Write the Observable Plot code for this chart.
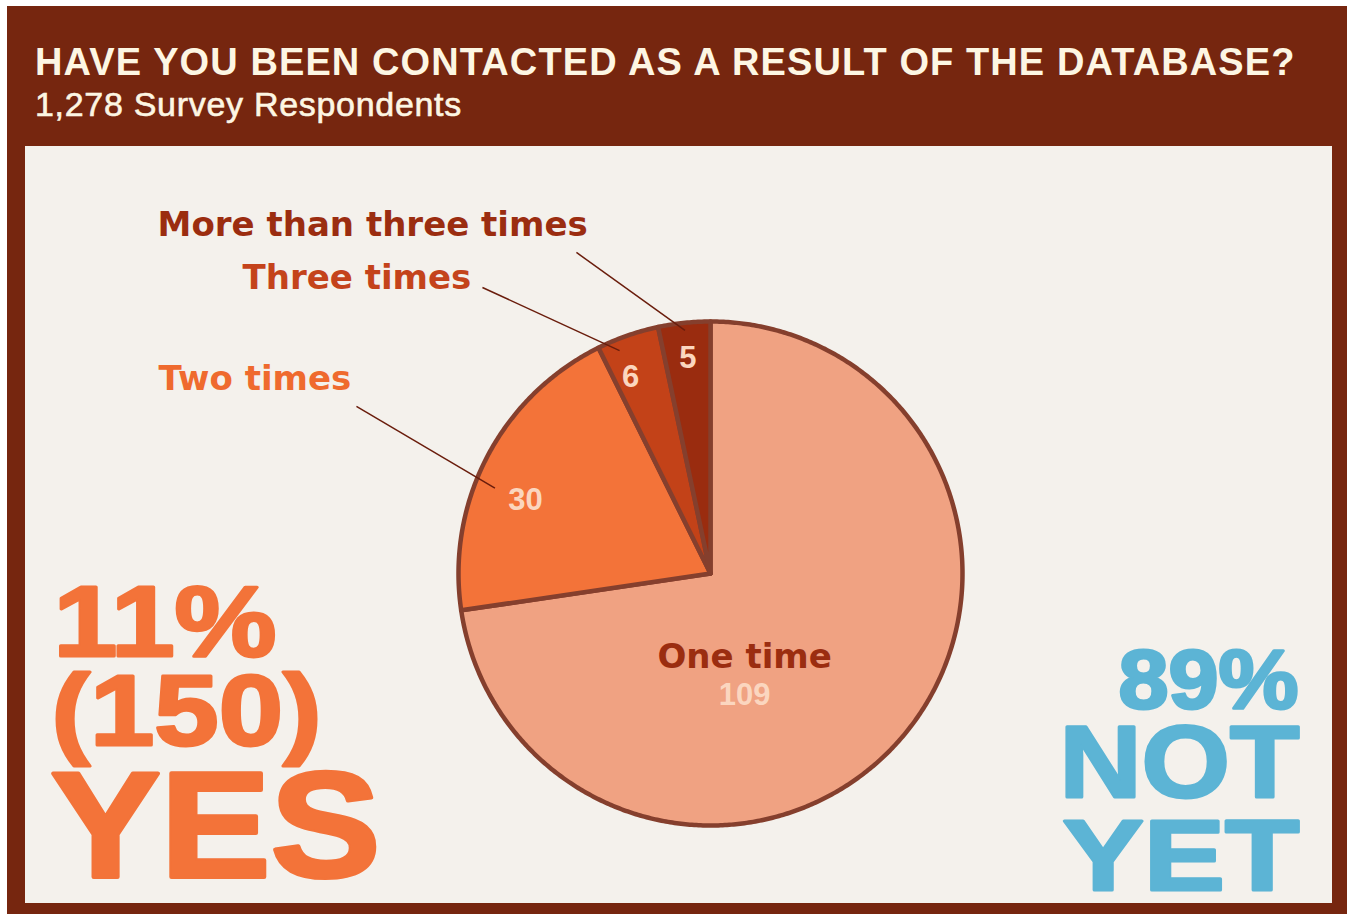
<!DOCTYPE html>
<html>
<head>
<meta charset="utf-8">
<script src="https://cdn.jsdelivr.net/npm/d3@7"></script>
<script src="https://cdn.jsdelivr.net/npm/@observablehq/plot@0.6"></script>
<style>
  html, body { margin: 0; padding: 0; background: #ffffff; }
  #frame { position: absolute; left: 7px; top: 6px; width: 1340px; height: 908px; background: #76260f; }
  #title, #subtitle { position: absolute; left: 35px; white-space: nowrap; color: #fdf6e3; font-family: "Liberation Sans", Arial, sans-serif; }
  #title { top: 43px; font-size: 38px; line-height: 38px; font-weight: bold; letter-spacing: 1.1px; }
  #subtitle { top: 87px; font-size: 34px; line-height: 34px; font-weight: normal; letter-spacing: 0.7px; -webkit-text-stroke: 0.6px #fdf6e3; }
  #panel { position: absolute; left: 25px; top: 146px; width: 1307px; height: 757px; background: #f4f1ec; }
  #panel svg { display: block; }
</style>
</head>
<body>
<div id="frame"></div>
<div id="title">HAVE YOU BEEN CONTACTED AS A RESULT OF THE DATABASE?</div>
<div id="subtitle"></div>
<div id="panel"></div>
<script>
// Survey answers: how often respondents were contacted
const categories = ["One time", "Two times", "Three times", "More than three times"];
const counts = [109, 30, 6, 5];
const totalRespondents = 1278;
const yesPercent = 11;
const notYetPercent = 89;

// Colours
const sliceColors = ["#f0a282", "#f37339", "#c34218", "#9a2c0f"];
const nameColors = ["#9b2d10", "#ef6a2e", "#c4431b", "#9b2d10"];
const outline = "#853f2d";
const valueColor = "#fbd6bf";
const yesColor = "#f37339";
const noColor = "#5cb4d5";

document.getElementById("subtitle").textContent =
  `${d3.format(",")(totalRespondents)} Survey Respondents`;

const rows = categories.map((name, i) => ({name, count: counts[i]}));
const contacted = d3.sum(counts);

// Panel geometry (pixels) and the unit-circle coordinate system of the pie
const W = 1307, H = 757, R = 252, CX = 685, CY = 427;
const xDomain = [-CX / R, (W - CX) / R];
const yDomain = [-(H - CY) / R, CY / R];

// Slices, clockwise from 12 o'clock
const arcs = d3.pie().sort(null).value(d => d.count)(rows);
const deg = Math.PI / 180;
const slicePoints = arcs.flatMap(s => {
  const n = Math.max(2, Math.ceil((s.endAngle - s.startAngle) / (0.5 * deg)));
  const ring = d3.range(n + 1).map(i => {
    const a = s.startAngle + (s.endAngle - s.startAngle) * i / n;
    return {name: s.data.name, x: Math.sin(a), y: Math.cos(a)};
  });
  return [{name: s.data.name, x: 0, y: 0}, ...ring, {name: s.data.name, x: 0, y: 0}];
});

// Value-label placement inside each slice: angular nudge (deg) and radius
const valuePlacement = [
  {turn: 33.5, r: 0.50},
  {turn: -6, r: 0.79},
  {turn: -3, r: 0.84},
  {turn: 0, r: 0.86}
];
const leaderReach = [null, 0.92, 0.955, 0.97];

const valueLabels = arcs.map((s, i) => {
  const a = (s.startAngle + s.endAngle) / 2 + valuePlacement[i].turn * deg;
  const r = valuePlacement[i].r;
  return {name: s.data.name, count: s.data.count, a, x: r * Math.sin(a), y: r * Math.cos(a)};
});

// Outside names with their leader lines (label anchor and line start, unit coords)
const outsideLayout = {
  "Two times":             {x: -2.190, y: 0.730, lx: -1.405, ly: 0.663},
  "Three times":           {x: -1.857, y: 1.127, lx: -0.905, ly: 1.135},
  "More than three times": {x: -2.194, y: 1.341, lx: -0.532, ly: 1.274}
};
const outsideNames = categories
  .map((name, i) => ({name, color: nameColors[i], i}))
  .filter(d => outsideLayout[d.name])
  .map(d => {
    const L = outsideLayout[d.name];
    const v = valueLabels[d.i];
    const reach = leaderReach[d.i];
    return {...d, x: L.x, y: L.y, x1: L.lx, y1: L.ly, x2: reach * Math.sin(v.a), y2: reach * Math.cos(v.a)};
  });

const insideName = valueLabels[0];

const bigFont = {fontFamily: "Liberation Sans, Arial, sans-serif", fontWeight: "bold", lineAnchor: "bottom", strokeWidth: 3, strokeLinejoin: "round"};

const chart = Plot.plot({
  width: W,
  height: H,
  margin: 0,
  x: {domain: xDomain, axis: null},
  y: {domain: yDomain, axis: null},
  color: {domain: categories, range: sliceColors},
  style: {background: "transparent", overflow: "visible"},
  marks: [
    Plot.line(slicePoints, {
      x: "x", y: "y", z: "name", fill: "name",
      stroke: outline, strokeWidth: 4.5, strokeLinejoin: "round"
    }),
    Plot.link(outsideNames, {
      x1: "x1", y1: "y1", x2: "x2", y2: "y2",
      stroke: "#6a1d0c", strokeWidth: 1.5
    }),
    Plot.text(outsideNames, {
      x: "x", y: "y", text: "name", fill: d => d.color,
      textAnchor: "start", lineAnchor: "bottom",
      fontFamily: "DejaVu Sans, sans-serif", fontWeight: "bold", fontSize: 34
    }),
    Plot.text([insideName], {
      x: "x", y: "y", text: "name", fill: nameColors[0], dy: -38,
      fontFamily: "DejaVu Sans, sans-serif", fontWeight: "bold", fontSize: 34
    }),
    Plot.text(valueLabels, {
      x: "x", y: "y", text: d => String(d.count), fill: valueColor,
      fontFamily: "Liberation Sans, Arial, sans-serif", fontWeight: "bold", fontSize: 31
    }),
    // Headline figures
    Plot.text([`${yesPercent}%`], {...bigFont, text: d => d, frameAnchor: "bottom-left", textAnchor: "start", dx: 28, dy: -248, fontSize: 101, fill: yesColor, stroke: yesColor}),
    Plot.text([`(${contacted})`], {...bigFont, text: d => d, frameAnchor: "bottom-left", textAnchor: "start", dx: 26, dy: -159, fontSize: 101, fill: yesColor, stroke: yesColor}),
    Plot.text(["YES"], {...bigFont, text: d => d, frameAnchor: "bottom-left", textAnchor: "start", dx: 25, dy: -27, fontSize: 150, fill: yesColor, stroke: yesColor, strokeWidth: 4}),
    Plot.text([`${notYetPercent}%`], {...bigFont, text: d => d, frameAnchor: "bottom-right", textAnchor: "end", dx: -34, dy: -196, fontSize: 84, fill: noColor, stroke: noColor}),
    Plot.text(["NOT"], {...bigFont, text: d => d, frameAnchor: "bottom-right", textAnchor: "end", dx: -33, dy: -107, fontSize: 102, fill: noColor, stroke: noColor}),
    Plot.text(["YET"], {...bigFont, text: d => d, frameAnchor: "bottom-right", textAnchor: "end", dx: -33, dy: -14, fontSize: 101, fill: noColor, stroke: noColor})
  ]
});

// Widen the headline figures to the heavy display face's proportions
const headlineWidths = new Map([
  [`${yesPercent}%`, 223], [`(${contacted})`, 270], ["YES", 330],
  [`${notYetPercent}%`, 180], ["NOT", 240], ["YET", 237]
]);
chart.querySelectorAll("text").forEach(t => {
  const w = headlineWidths.get(t.textContent);
  if (w) {
    t.setAttribute("textLength", w);
    t.setAttribute("lengthAdjust", "spacingAndGlyphs");
  }
});

document.getElementById("panel").appendChild(chart);
</script>
</body>
</html>
